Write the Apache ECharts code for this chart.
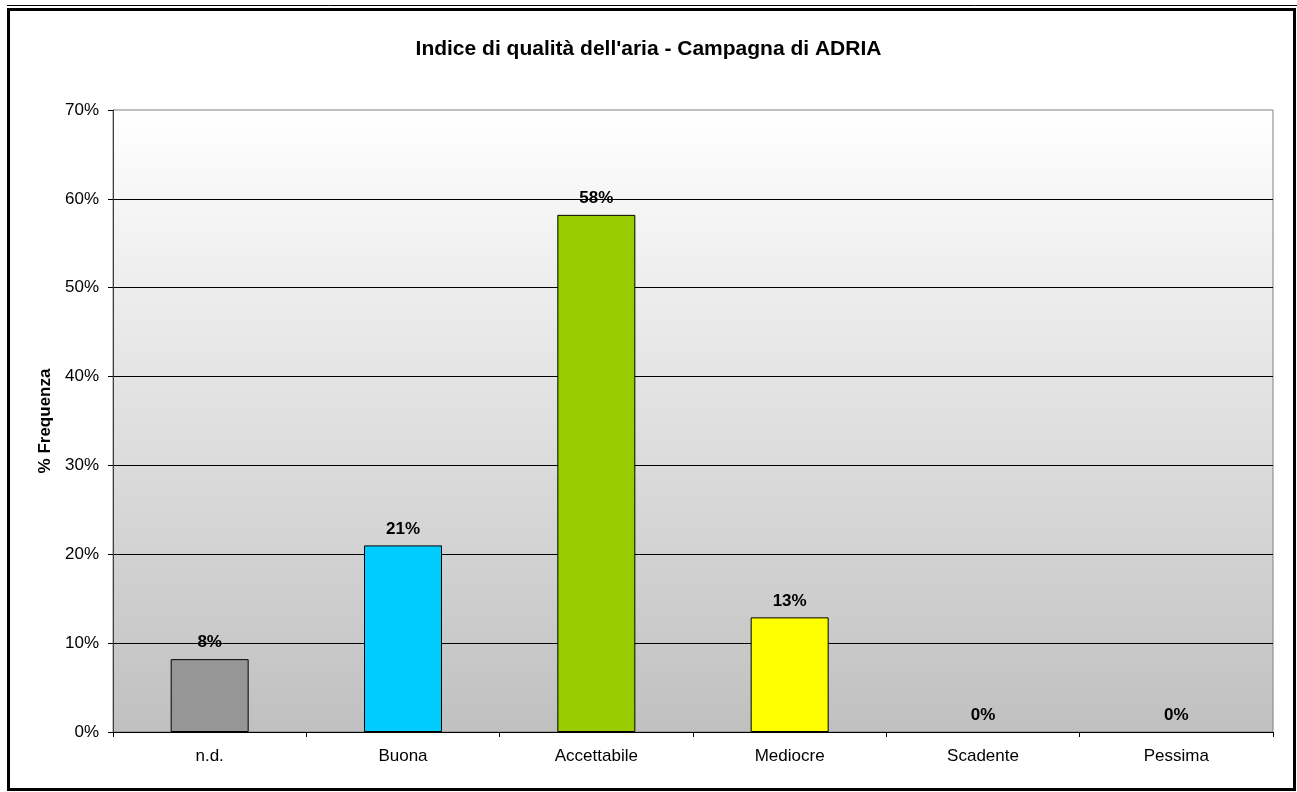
<!DOCTYPE html>
<html>
<head>
<meta charset="utf-8">
<title>Indice di qualità dell'aria - Campagna di ADRIA</title>
<script src="https://cdn.jsdelivr.net/npm/echarts@6/dist/echarts.min.js"></script>
<style>
  html, body { margin: 0; padding: 0; background: #fff; }
  #chart { width: 1297px; height: 792px; }
</style>
</head>
<body>
<div id="chart"></div>
<script>
// categorie dell'indice e frequenze (%)
var categorie = ['n.d.', 'Buona', 'Accettabile', 'Mediocre', 'Scadente', 'Pessima']
var frequenze = [8.2, 21.0, 58.2, 12.9, 0, 0]
var colori = ['#969696', '#00ccff', '#99cc00', '#ffff00', '#ff9900', '#ff0000']

var chart = echarts.init(document.getElementById('chart'))

chart.setOption({
  animation: false,
  textStyle: { fontFamily: 'Liberation Sans, Arial, sans-serif' },
  title: {
    text: "Indice di qualità dell'aria - Campagna di ADRIA",
    left: 'center',
    top: 34,
    textStyle: { fontSize: 21, fontWeight: 'bold', color: '#000' }
  },
  // cornice esterna
  graphic: [
    {
      type: 'rect',
      shape: { x: 8.5, y: 9.5, width: 1286, height: 780 },
      style: { fill: null, stroke: '#000', lineWidth: 3 },
      silent: true
    },
    {
      type: 'line',
      shape: { x1: 7, y1: 5.5, x2: 1297, y2: 5.5 },
      style: { stroke: '#000', lineWidth: 1 },
      silent: true
    }
  ],
  grid: {
    left: 113,
    right: 24,
    top: 110,
    bottom: 60,
    show: true,
    borderColor: '#808080',
    borderWidth: 1,
    backgroundColor: new echarts.graphic.LinearGradient(0, 0, 0, 1, [
      { offset: 0, color: '#ffffff' },
      { offset: 1, color: '#c0c0c0' }
    ])
  },
  xAxis: {
    type: 'category',
    data: categorie,
    axisLine: { lineStyle: { color: '#000', width: 1 } },
    axisTick: { show: true, length: 5, lineStyle: { color: '#000' } },
    axisLabel: { color: '#000', fontSize: 17, margin: 16 }
  },
  yAxis: {
    type: 'value',
    min: 0,
    max: 70,
    interval: 10,
    name: '% Frequenza',
    nameLocation: 'middle',
    nameGap: 58,
    nameTextStyle: { fontSize: 17, fontWeight: 'bold', color: '#000' },
    axisLine: { show: true, lineStyle: { color: '#404040', width: 1 } },
    axisTick: { show: true, length: 5, lineStyle: { color: '#000' } },
    axisLabel: { color: '#000', fontSize: 17, margin: 14, formatter: '{value}%' },
    splitLine: { show: true, showMaxLine: false, lineStyle: { color: '#000', width: 1 } }
  },
  series: [
    {
      type: 'bar',
      data: frequenze.map(function (v, i) {
        return {
          value: v,
          itemStyle: { color: colori[i], borderWidth: v > 0 ? 1 : 0 }
        }
      }),
      barWidth: 78,
      itemStyle: { borderColor: '#000', borderWidth: 1 },
      label: {
        show: true,
        position: 'top',
        distance: 8,
        color: '#000',
        fontSize: 17,
        fontWeight: 'bold',
        formatter: function (p) { return Math.round(p.value) + '%' }
      }
    }
  ]
})
</script>
</body>
</html>
